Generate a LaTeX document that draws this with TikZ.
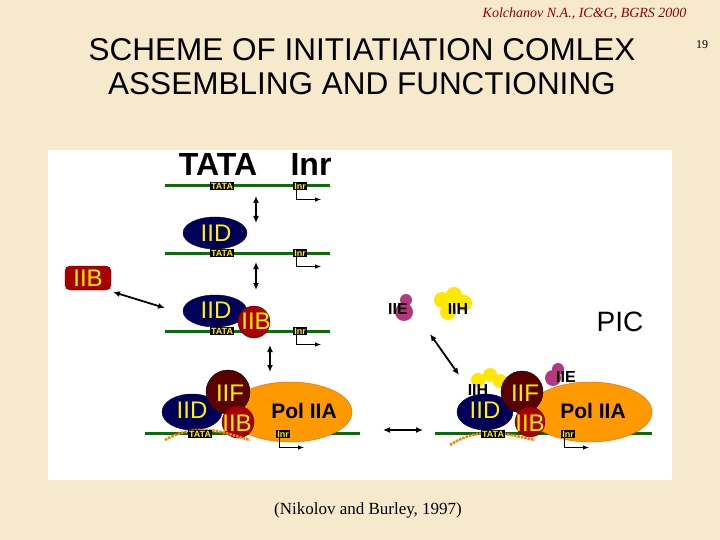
\documentclass[tikz,border=0pt]{standalone}
\usepackage{fontspec}
\usetikzlibrary{arrows.meta}
\setmainfont{Liberation Serif}
\setsansfont{Liberation Sans}
\definecolor{bgc}{RGB}{246,233,204}
\begin{document}
\begin{tikzpicture}[x=1pt,y=-1pt,
 dna/.style={draw=green!45!black,line width=3pt},
 lab/.style={fill=black,text=yellow,font=\sffamily\bfseries\fontsize{9}{9}\selectfont,inner sep=1.2pt},
 dbl/.style={{Latex[length=7pt,width=6pt]}-{Latex[length=7pt,width=6pt]},line width=1.8pt},
 tss/.style={->,>=latex,line width=1pt,draw=black},
 iid/.style={fill=blue!35!black,draw=blue!20!black},
 iib/.style={fill=red!65!black,draw=red!40!black},
 iif/.style={fill=red!35!black,draw=black},
 pol/.style={fill=orange!80!yellow,draw=orange!70!red},
 ylw/.style={text=yellow,font=\sffamily\fontsize{24}{24}\selectfont},
 blk/.style={text=black,font=\sffamily\bfseries\fontsize{21}{21}\selectfont}]
\useasboundingbox (0,0) rectangle (720,540);
\fill[bgc] (0,0) rectangle (720,540);
\fill[white] (48,150) rectangle (672,480);
\node[anchor=east] (hdr) at (690,14) {\textit{\color{red!60!black}\fontsize{14}{14}\selectfont Kolchanov N.A., IC\&G, BGRS 2000}};
\node (num) at (702,45) {\fontsize{12}{12}\selectfont 19};
\node[font=\sffamily\fontsize{31.5}{34}\selectfont,align=center] (title) at (362,67) {SCHEME OF INITIATIATION COMLEX\\ASSEMBLING AND FUNCTIONING};
\node[font=\fontsize{17}{17}\selectfont] (cite) at (368,510) {(Nikolov and Burley, 1997)};
\node[font=\sffamily\bfseries\fontsize{32}{32}\selectfont] (bigtata) at (218,164) {TATA};
\node[font=\sffamily\bfseries\fontsize{32}{32}\selectfont] (biginr) at (311,164) {Inr};
\node[font=\sffamily\fontsize{28}{28}\selectfont] (pic) at (620,322) {PIC};
\foreach \y in {186,253,331}{
 \draw[dna] (165,\y) -- (330,\y);
}
\fill[iid] (215,233) ellipse (32 and 16);
\fill[iid] (215,311) ellipse (32 and 16);
\fill[iib] (254,322) circle (16);
\node[ylw] (iid2) at (216,233) {IID};
\node[ylw] (iid3) at (216,310) {IID};
\node[ylw] (iib3) at (256,321) {IIB};
\foreach \y/\n in {186/a,253/b,331/c}{
 \node[lab] (tata\n) at (222,\y) {TATA};
 \node[lab] (inr\n) at (300,\y) {Inr};
 \draw[tss] (inr\n.south west) ++(4,0) |- ++(24,9);
}
\node[iib,rounded corners=5pt,minimum width=46pt,minimum height=24pt,ylw] (iibf) at (88,278) {IIB};
\coordinate (r1) at (256,196); \coordinate (r2) at (256,223);
\draw[dbl] (r1) -- (r2);
\coordinate (r3) at (256,262); \coordinate (r4) at (256,290);
\draw[dbl] (r3) -- (r4);
\coordinate (r5) at (270,345); \coordinate (r6) at (270,372);
\draw[dbl] (r5) -- (r6);
\coordinate (d0) at (113,292); \coordinate (d1) at (165,308);
\draw[dbl] (d0) -- (d1);
% row 4 left
\draw[dna] (145,433) -- (360,433);
\fill[pol] (290,412) ellipse (62 and 30);
\fill[iid] (192,412) ellipse (30 and 18);
\fill[iif] (228,392) circle (22);
\fill[iib] (238,422) circle (16);
\draw[orange,line width=2.5pt,densely dotted] (165,440) .. controls (200,420) and (230,435) .. (250,440);
\node[ylw] (iid4) at (192,410) {IID};
\node[ylw] (iif4) at (230,393) {IIF};
\node[ylw] (iib4) at (237,423) {IIB};
\node[blk] (pol4) at (304,411) {Pol IIA};
\node[lab] (tata4) at (200,434) {TATA};
\node[lab] (inr4) at (283,434) {Inr};
\draw[tss] (inr4.south west) ++(4,0) |- ++(24,9);
% row 4 right
\coordinate (h1) at (383,430); \coordinate (h2) at (423,430);
\draw[dbl] (h1) -- (h2);
\draw[dna] (435,433) -- (652,433);
\fill[pol] (590,412) ellipse (62 and 30);
\fill[yellow!90!orange] (478,380) circle (7) (490,375) circle (7) (500,381) circle (7);
\fill[iid] (485,412) ellipse (28 and 18);
\fill[iif] (522,392) circle (21);
\fill[iib] (530,422) circle (15);
\fill[magenta!70!black] (553,378) circle (8) (558,369) circle (6);
\draw[orange,line width=2.5pt,densely dotted] (450,445) .. controls (480,425) and (510,435) .. (535,440);
\node[blk,font=\sffamily\bfseries\fontsize{16}{16}\selectfont] (iih5) at (478,390) {IIH};
\node[blk,font=\sffamily\bfseries\fontsize{16}{16}\selectfont] (iie5) at (566,377) {IIE};
\node[ylw] (iid5) at (485,410) {IID};
\node[ylw] (iif5) at (525,393) {IIF};
\node[ylw] (iib5) at (530,423) {IIB};
\node[blk] (pol5) at (593,411) {Pol IIA};
\node[lab] (tata5) at (493,434) {TATA};
\node[lab] (inr5) at (568,434) {Inr};
\draw[tss] (inr5.south west) ++(4,0) |- ++(24,9);
% free IIE IIH
\fill[magenta!70!black] (404,312) circle (9) (406,300) circle (6);
\fill[yellow!90!orange] (442,300) circle (8) (454,295) circle (8) (464,303) circle (8) (448,312) circle (8);
\node[blk,font=\sffamily\bfseries\fontsize{16}{16}\selectfont] (iie) at (398,309) {IIE};
\node[blk,font=\sffamily\bfseries\fontsize{16}{16}\selectfont] (iih) at (458,309) {IIH};
\coordinate (e1) at (430,334); \coordinate (e2) at (459,375);
\draw[dbl] (e1) -- (e2);
\end{tikzpicture}
\end{document}
